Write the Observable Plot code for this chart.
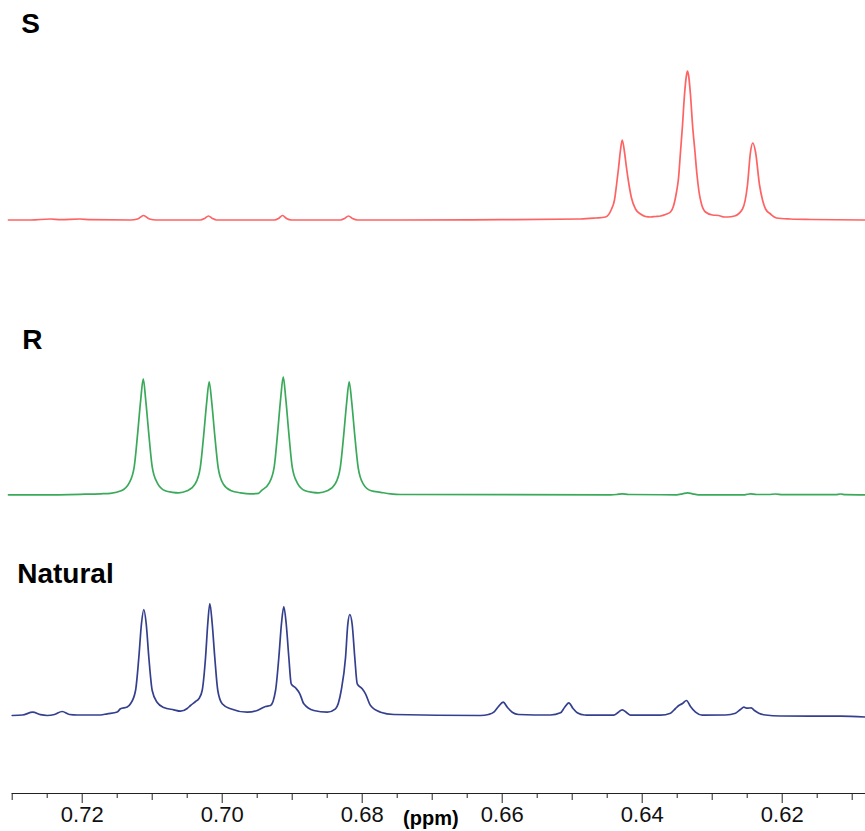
<!DOCTYPE html>
<html><head><meta charset="utf-8">
<script src="https://cdn.jsdelivr.net/npm/d3@7"></script>
<script src="https://cdn.jsdelivr.net/npm/@observablehq/plot@0.6"></script>
<style>
html,body{margin:0;padding:0;background:#fff;}
svg{font-family:"Liberation Sans",Arial,Helvetica,sans-serif;}
</style></head><body><div id="chart"></div>
<script>
// ---------- data (chemical shift in ppm, intensity above each trace's baseline) ----------
const seriesNames = ["S", "R", "Natural"];
const majorTicks = [0.72, 0.70, 0.68, 0.66, 0.64, 0.62];
const mediumTicks = [0.73, 0.71, 0.69, 0.67, 0.65, 0.63, 0.61];
const minorTicks = [0.725, 0.715, 0.705, 0.695, 0.685, 0.675, 0.665, 0.655, 0.645, 0.635, 0.625, 0.615];
const axisLabel = "(ppm)";

const spectrumS = [
  [0.73053,0],[0.72738,0],[0.72453,1],[0.72310,0.3],[0.72038,1],[0.71881,0.3],[0.71310,0],
  [0.71210,1],[0.71124,4.5],[0.71038,1],[0.70938,0],
  [0.70310,0],[0.70253,1.5],[0.70196,4],[0.70138,1.5],[0.70081,0],
  [0.69253,0],[0.69196,1.5],[0.69138,4.5],[0.69081,1.5],[0.69010,0],
  [0.68310,0],[0.68253,1.5],[0.68196,4],[0.68138,1.5],[0.68067,0],
  [0.67453,0],[0.66024,0.3],[0.64881,1],[0.64667,2],[0.64524,3],
  [0.64438,11],[0.64396,20],[0.64367,35],[0.64338,52],[0.64310,70],[0.64286,80],
  [0.64253,68],[0.64224,52],[0.64188,35],[0.64153,22],[0.64096,11],[0.64024,6],
  [0.63953,3.5],[0.63881,3],[0.63810,3.5],[0.63738,4],[0.63667,5.5],[0.63596,8],
  [0.63553,14],[0.63510,28],[0.63481,42],[0.63453,68],[0.63424,95],[0.63396,125],
  [0.63367,145],[0.63353,149],[0.63338,145],[0.63310,125],[0.63281,95],[0.63246,68],
  [0.63217,45],[0.63188,28],[0.63153,16],[0.63096,8],[0.62996,5],[0.62910,4.5],
  [0.62824,3],[0.62781,3],[0.62681,4],[0.62567,11],[0.62496,35],[0.62453,68],
  [0.62420,77],[0.62381,68],[0.62324,35],[0.62281,20],[0.62238,11],[0.62167,6],
  [0.62081,2],[0.61881,1],[0.61596,0.5],[0.60810,0]
];

const spectrumR = [
  [0.73053,0],[0.72596,0],[0.72024,0.5],[0.71738,1],[0.71596,1.5],
  [0.71443,4],[0.71328,12],[0.71257,28],[0.71207,62],[0.71164,95],[0.71128,116],
  [0.71093,95],[0.71050,62],[0.71000,28],[0.70928,12],[0.70814,4],
  [0.70710,2.5],[0.70624,2],
  [0.70500,4],[0.70386,11],[0.70314,27],[0.70264,60],[0.70221,93],[0.70186,113],
  [0.70150,93],[0.70107,60],[0.70057,27],[0.69986,11],[0.69871,4],
  [0.69738,2],[0.69596,1],[0.69481,1.5],
  [0.69443,4],[0.69328,12],[0.69257,28],[0.69207,63],[0.69164,97],[0.69128,118],
  [0.69093,97],[0.69050,63],[0.69000,28],[0.68928,12],[0.68814,4],
  [0.68710,2.5],[0.68624,2],
  [0.68500,4],[0.68386,11],[0.68314,27],[0.68264,60],[0.68221,93],[0.68186,113],
  [0.68150,93],[0.68107,60],[0.68057,27],[0.67986,11],[0.67871,4],
  [0.67738,2.5],[0.67596,1],[0.67453,0.3],[0.64453,0],[0.64367,0.3],[0.64281,1],
  [0.64196,0.3],[0.63510,0],[0.63424,1],[0.63353,2],[0.63281,1],[0.63196,0],
  [0.62538,0],[0.62453,1],[0.62367,0.3],[0.62196,0.3],[0.62096,0.8],[0.61996,0.2],
  [0.61238,0.2],[0.61167,0.8],[0.61096,0.2],[0.60810,0]
];

const spectrumNatural = [
  [0.73000,0],[0.72853,0.5],[0.72706,3.3],[0.72596,0.8],[0.72500,0],[0.72396,1],
  [0.72286,4],[0.72181,1],[0.72071,0.5],[0.71738,0.5],[0.71643,1.7],[0.71500,3.5],
  [0.71453,6.7],[0.71357,8.5],[0.71310,11.7],[0.71238,25],[0.71191,58],[0.71153,92],
  [0.71120,106],[0.71086,92],[0.71048,58],[0.71000,25],[0.70928,13],[0.70834,8],
  [0.70691,5.7],[0.70596,4.3],[0.70500,7],[0.70453,10],[0.70381,14],[0.70334,16.7],
  [0.70286,25],[0.70238,58],[0.70206,92],[0.70177,112],[0.70143,92],[0.70106,58],
  [0.70063,25],[0.70000,11.7],[0.69881,6.7],[0.69643,3.3],[0.69500,5],[0.69381,9],
  [0.69310,10],[0.69238,25],[0.69191,58],[0.69153,92],[0.69120,109],[0.69086,92],
  [0.69048,58],[0.69014,31.7],[0.68953,27.7],[0.68891,21.7],[0.68834,11.7],[0.68691,5],
  [0.68500,3.3],[0.68381,6.7],[0.68300,25],[0.68238,58],[0.68206,91],[0.68177,101],
  [0.68143,91],[0.68106,58],[0.68071,31.7],[0.68000,26.7],[0.67953,21.7],[0.67881,10],
  [0.67738,3.3],[0.67548,1],[0.66310,0],
  [0.66196,1],[0.66120,3.3],[0.66053,9],[0.65986,13.3],[0.65924,8],[0.65857,3.3],
  [0.65767,1],[0.65310,0.5],[0.65167,2.7],[0.65110,8],[0.65048,12.7],[0.64988,7],
  [0.64928,2.7],[0.64824,0.5],[0.64406,0.3],[0.64346,3],[0.64286,5.7],[0.64224,3],
  [0.64167,0.3],[0.63738,0.3],[0.63596,2.3],[0.63524,7],[0.63477,10],[0.63424,12],
  [0.63367,15],[0.63310,9],[0.63238,3.3],[0.63143,0.3],[0.62810,0.5],[0.62667,2.3],
  [0.62596,6],[0.62548,8.3],[0.62500,7.3],[0.62443,7.7],[0.62396,5],[0.62334,2.3],
  [0.62238,0.5],[0.62024,-0.5],[0.61167,-0.7],[0.60810,-1.5]
];

const spectra = {S: spectrumS, R: spectrumR, Natural: spectrumNatural};

// ---------- layout / style ----------
const W = 865, H = 831, MB = 38, ML = 11.7;
const style = {
  S:       {offset: 573.5, color: "#ff6262", dx: 9,   dy: 13},
  R:       {offset: 298.7, color: "#3aaa5a", dx: 10,  dy: 329},
  Natural: {offset: 78,    color: "#34408e", dx: 5,   dy: 563}
};

const marks = [];
for (const name of seriesNames) {
  const rows = spectra[name].map(([ppm, h]) => ({ppm, v: h + style[name].offset}));
  marks.push(Plot.line(rows, {x: "ppm", y: "v", stroke: style[name].color, strokeWidth: 1.7, curve: "monotone-x"}));
  marks.push(Plot.text([name], {frameAnchor: "top-left", dx: style[name].dx, dy: style[name].dy,
    text: d => d, textAnchor: "start", lineAnchor: "top", fontSize: 28, fontWeight: "bold", fill: "#000"}));
}
marks.push(Plot.ruleY([0], {stroke: "#222", strokeWidth: 1.2}));
marks.push(Plot.axisX(minorTicks, {tickSize: 5, tickFormat: () => "", stroke: "#222", label: null}));
marks.push(Plot.axisX(mediumTicks, {tickSize: 7, tickFormat: () => "", stroke: "#222", label: null}));
marks.push(Plot.axisX(majorTicks, {tickSize: 10, tickPadding: 3, tickFormat: d => d.toFixed(2),
  fontSize: 22, fill: "#111", stroke: "#222", label: null}));
marks.push(Plot.text([axisLabel], {frameAnchor: "bottom", dx: -8, dy: 25, text: d => d,
  lineAnchor: "middle", fontSize: 20, fontWeight: "bold", fill: "#000"}));

const chart = Plot.plot({
  width: W, height: H,
  marginTop: 0, marginBottom: MB, marginLeft: ML, marginRight: 0,
  x: {domain: [0.73, 0.6081], axis: null},
  y: {domain: [0, H - MB], axis: null},
  marks
});
document.getElementById("chart").appendChild(chart);
</script></body></html>
